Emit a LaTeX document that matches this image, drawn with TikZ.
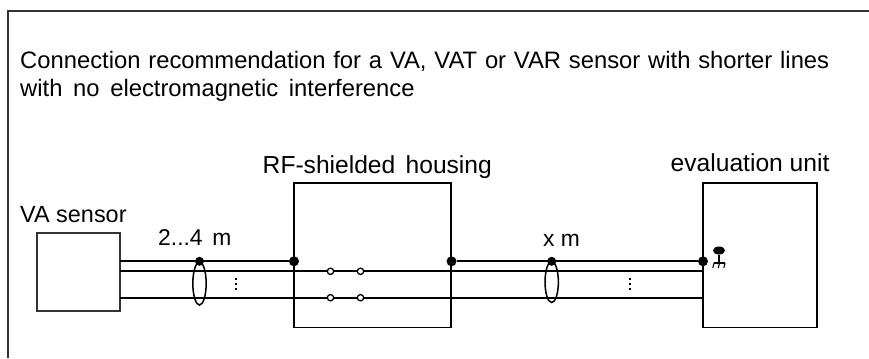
\documentclass[tikz,border=0pt]{standalone}
\usepackage{fontspec}
\setmainfont{Liberation Sans}
\usetikzlibrary{shapes.geometric}

\begin{document}
\begin{tikzpicture}
        [   x=0.03cm, y=-0.03cm,
            BoxNode/.style=
            {rectangle, draw=black, line width=1.3pt, inner sep=0pt},
            SmallBox/.style=
            {rectangle, draw=black!80, line width=1pt, inner sep=0pt},
            JointNode/.style=
            {circle, fill=black, inner sep=0pt, minimum size=0.3cm},
            ContactNode/.style=
            {circle, draw=black, fill=white, line width=1.1pt, inner sep=0pt, minimum size=0.19cm},
            ShieldNode/.style=
            {ellipse, draw=black, line width=1.3pt, inner sep=0pt, minimum width=0.40cm},
            TextNode/.style=
            {inner sep=0pt, anchor=base west, font=\fontsize{19.5}{23.5}\selectfont},
            WireLine/.style=
            {line width=1.6pt},
            DotLine/.style=
            {line width=1.4pt, dash pattern=on 2pt off 2.5pt}
        ]
            \useasboundingbox (0,0) rectangle (869,358);

            % frame
            \coordinate (f1) at (8,358);
            \coordinate (f2) at (8,11);
            \coordinate (f3) at (869,11);
            \draw[black!80, line width=0.9pt] (f1) -- (f2) -- (f3);

            % text
            \node[TextNode, font=\fontsize{20.3}{23.9}\selectfont, align=left, anchor=north west] (title) at (20,51.5)
                {\spaceskip=0.33em Connection recommendation for a VA, VAT or VAR sensor with shorter lines\\
                 \spaceskip=0.45em with no electromagnetic interference};
            \node[TextNode, font=\fontsize{20}{24}\selectfont] (l1) at (20,222) {VA sensor};
            \node[TextNode] (l2) at (158,245) {\spaceskip=0.42em 2...4 m};
            \node[TextNode, font=\fontsize{21}{24}\selectfont] (l3) at (262.5,173) {\spaceskip=0.42em RF-shielded housing};
            \node[TextNode] (l4) at (543,246) {x m};
            \node[TextNode, font=\fontsize{21}{24}\selectfont] (l5) at (670.5,171) {evaluation unit};

            % boxes
            \node[SmallBox, minimum width=2.49cm, minimum height=2.34cm] (sensor) at (78.5,272) {};
            \node[BoxNode, minimum width=4.71cm, minimum height=4.335cm] (housing) at (372.5,255.3) {};
            \node[BoxNode, minimum width=3.42cm, minimum height=4.335cm] (unit) at (760,255.3) {};

            % wires
            \coordinate (a1) at (120,261.3);
            \coordinate (a2) at (120,271.3);
            \coordinate (a3) at (120,297.7);
            \coordinate (b2) at (703,271.3);
            \coordinate (b3) at (703,297.7);
            \node[JointNode] (j1) at (294,261.3) {};
            \node[JointNode] (j2) at (451.5,261.3) {};
            \node[JointNode] (j3) at (703,261.3) {};
            \draw[WireLine] (a1) -- (j1);
            \draw[WireLine] (j2) -- (j3);
            \draw[WireLine] (a2) -- (b2);
            \draw[WireLine] (a3) -- (b3);

            % contacts
            \foreach \x/\n in {330.5/1, 360.5/2}
            {
                \node[ContactNode] (c\n) at (\x,271.3) {};
                \node[ContactNode] (d\n) at (\x,297.7) {};
            }

            % shields
            \node[ShieldNode, minimum height=1.29cm] (e1) at (199.5,283.5) {};
            \node[ShieldNode, minimum height=1.23cm] (e2) at (551.7,282) {};
            \node[JointNode, minimum size=0.27cm] (s1) at (199.5,261.3) {};
            \node[JointNode, minimum size=0.27cm] (s2) at (551.7,261.3) {};

            % dots
            \coordinate (p1) at (236,277.5);
            \coordinate (p2) at (236,292);
            \coordinate (q1) at (630,277.5);
            \coordinate (q2) at (630,292);
            \draw[DotLine] (p1) -- (p2);
            \draw[DotLine] (q1) -- (q2);

            % earth
            \node[ellipse, fill=black, inner sep=0pt, minimum width=0.36cm, minimum height=0.24cm] (g1) at (719,250.5) {};
            \coordinate (g2) at (719,263);
            \coordinate (g3) at (714,263);
            \coordinate (g4) at (725,263);
            \draw[line width=1.2pt] (g1) -- (g2);
            \draw[line width=1pt] (g3) -- (g4);
            \foreach \x in {714,719.5,725}
                \draw[line width=0.9pt] (\x,263) -- ++(-1.2,5);
    \end{tikzpicture}
\end{document}
